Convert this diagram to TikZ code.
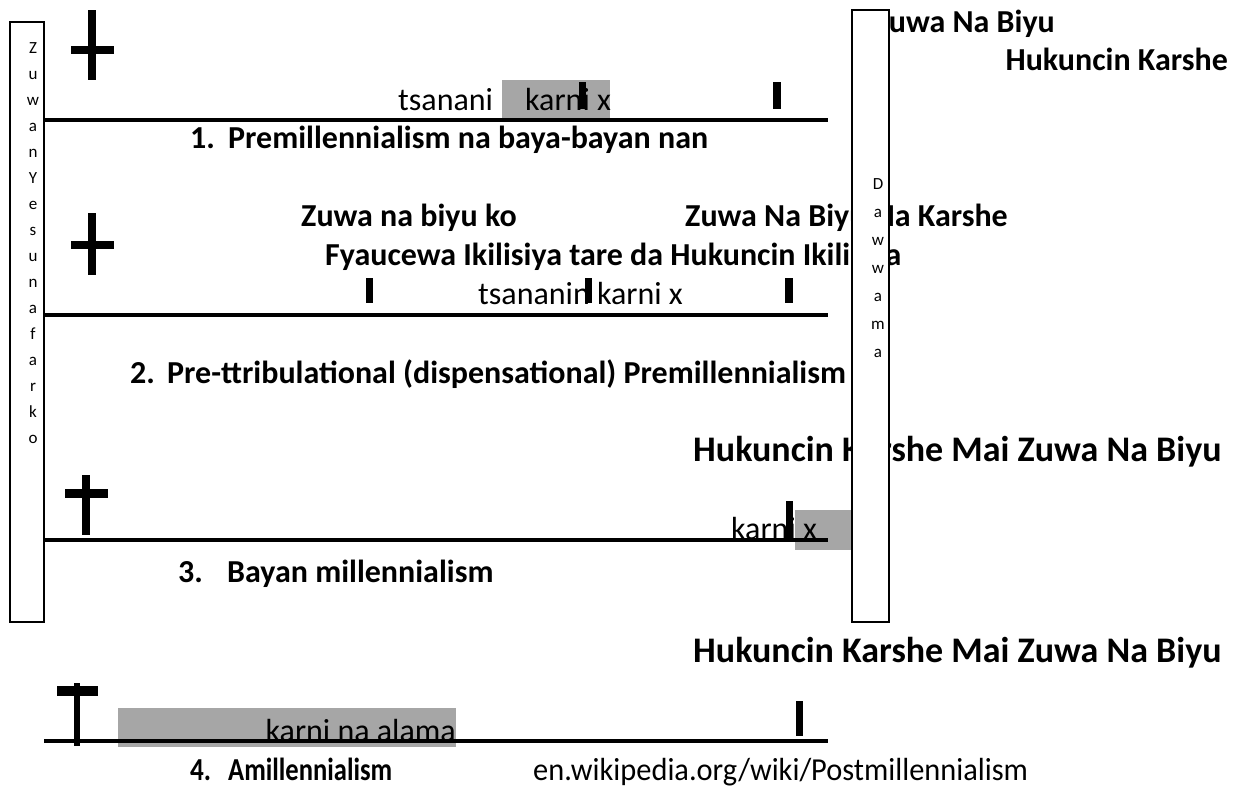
\documentclass[tikz,border=0pt]{standalone}
\usepackage{fontspec}
\setmainfont{Carlito}
\definecolor{shade}{HTML}{A6A6A6}
\begin{document}
\begin{tikzpicture}[x=1pt,y=-1pt,
  bt/.style={inner sep=0pt,font=\fontsize{32}{38}\selectfont\bfseries},
  bbt/.style={inner sep=0pt,font=\fontsize{36}{42}\selectfont\bfseries},
  rt/.style={inner sep=0pt,font=\fontsize{32}{38}\selectfont},
  lt/.style={inner sep=0pt,font=\fontsize{17}{20}\selectfont,anchor=base},
  bar/.style={fill=black,draw=none},
  grey/.style={fill=shade,draw=none},
  tl/.style={line width=4pt},
  vbox/.style={draw=black,line width=1.5pt,fill=white}]
\useasboundingbox (0,0) rectangle (1238,788);
% grey highlights
\fill[grey] (502,80) rectangle (610,118);
\fill[grey] (795,510) rectangle (852,550);
\fill[grey] (118,708) rectangle (456,747);
% texts row 1
\node[rt,anchor=base west] (t1a) at (398,110) {tsanani};
\node[rt,anchor=base west] (t1b) at (525,110) {karni x};
\node[bt,anchor=base east] (t1c) at (1055,32) {Zuwa Na Biyu};
\node[bt,anchor=base east] (t1d) at (1228,70) {Hukuncin Karshe};
\node[bt,anchor=base west] (n1) at (190,148) {1.};
\node[bt,anchor=base west] (h1) at (228,148) {Premillennialism na baya-bayan nan};
% row 2
\node[bt,anchor=base west] (t2a) at (301,226) {Zuwa na biyu ko};
\node[bt,anchor=base west] (t2b) at (685,226) {Zuwa Na Biyu Na Karshe};
\node[bt,anchor=base west] (t2c) at (325,265) {Fyaucewa Ikilisiya tare da Hukuncin Ikilisiya};
\node[rt,anchor=base west] (t2d) at (478,304) {tsananin karni x};
\node[bt,anchor=base west] (n2) at (130,383) {2.};
\node[bt,anchor=base west] (h2) at (167,383) {Pre-ttribulational (dispensational) Premillennialism};
% row 3
\node[bbt,anchor=base west] (t3a) at (693,461) {Hukuncin Karshe Mai Zuwa Na Biyu};
\node[rt,anchor=base west] (t3b) at (731,539) {karni x};
\node[bt,anchor=base west] (n3) at (178,582) {3.};
\node[bt,anchor=base west] (h3) at (227,582) {Bayan millennialism};
% row 4
\node[bbt,anchor=base west] (t4a) at (693,662) {Hukuncin Karshe Mai Zuwa Na Biyu};
\node[rt,anchor=base east] (t4b) at (456,741) {karni na alama};
\node[bt,anchor=base west] (n4) at (190,780) {\scalebox{0.85}[1]{4.}};
\node[bt,anchor=base west] (h4) at (228,780) {\scalebox{0.83}[1]{Amillennialism}};
\node[rt,anchor=base west] (url) at (533,780) {\scalebox{0.95}[1]{en.wikipedia.org/wiki/Postmillennialism}};
% time lines
\coordinate (l1s) at (44,120); \coordinate (l1e) at (828,120);
\coordinate (l2s) at (44,315); \coordinate (l2e) at (828,315);
\coordinate (l3s) at (44,540); \coordinate (l3e) at (828,540);
\coordinate (l4s) at (44,741); \coordinate (l4e) at (828,741);
\draw[tl] (l1s) -- (l1e);
\draw[tl] (l2s) -- (l2e);
\draw[tl] (l3s) -- (l3e);
\draw[tl] (l4s) -- (l4e);
% ticks
\fill[bar] (579,82) rectangle (586,109);
\fill[bar] (773,82) rectangle (781,109);
\fill[bar] (366,278) rectangle (373,303);
\fill[bar] (585,278) rectangle (592,303);
\fill[bar] (785,278) rectangle (793,303);
\fill[bar] (786,501) rectangle (793,538);
\fill[bar] (796,701) rectangle (803,736);
% crosses
\fill[bar] (88,10) rectangle (96,80);   \fill[bar] (71,46) rectangle (114,54);
\fill[bar] (88,213) rectangle (96,275); \fill[bar] (71,241) rectangle (114,249);
\fill[bar] (82,475) rectangle (90,535); \fill[bar] (65,489) rectangle (108,498);
\fill[bar] (74,683) rectangle (80,746); \fill[bar] (57,686) rectangle (98,696);
% vertical boxes
\draw[vbox] (10,22) rectangle (44,622);
\draw[vbox] (852,10) rectangle (889,622);
\foreach \c [count=\i from 0] in {Z,u,w,a,n,Y,e,s,u,n,a,f,a,r,k,o}
  \node[lt] (L\i) at (33,53+26*\i) {\c};
\foreach \c [count=\i from 0] in {D,a,w,w,a,m,a}
  \node[lt] (R\i) at (878,189+28*\i) {\c};
\end{tikzpicture}
\end{document}
